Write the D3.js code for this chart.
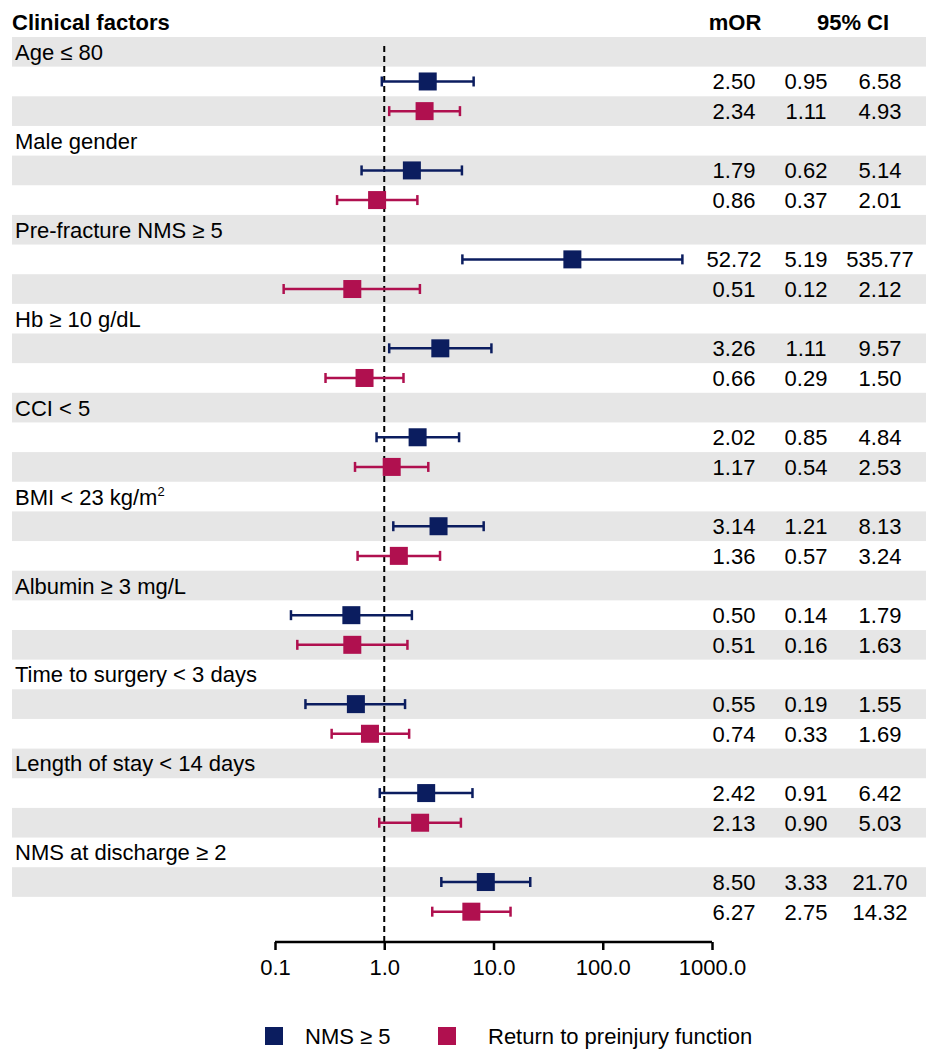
<!DOCTYPE html>
<html>
<head>
<meta charset="utf-8">
<script src="https://cdn.jsdelivr.net/npm/d3@7"></script>
<style>
  body { margin: 0; background: #fff; }
  svg text { font-family: "Liberation Sans", Arial, sans-serif; fill: #000; }
</style>
</head>
<body>
<svg width="926" height="1050"></svg>
<script>
const svg = d3.select('svg');

// factor labels (BMI has a superscript, handled below)
const factors = [
  'Age ≤ 80', 'Male gender', 'Pre-fracture NMS ≥ 5', 'Hb ≥ 10 g/dL', 'CCI < 5',
  'BMI < 23 kg/m2', 'Albumin ≥ 3 mg/L', 'Time to surgery < 3 days',
  'Length of stay < 14 days', 'NMS at discharge ≥ 2'
];
const seriesNames = ['NMS ≥ 5', 'Return to preinjury function'];
const colors = ['#0b1d5f', '#b0104f'];

// [mOR, lower, upper] per factor
const nmsValues = [
  [2.50, 0.95, 6.58], [1.79, 0.62, 5.14], [52.72, 5.19, 535.77], [3.26, 1.11, 9.57],
  [2.02, 0.85, 4.84], [3.14, 1.21, 8.13], [0.50, 0.14, 1.79], [0.55, 0.19, 1.55],
  [2.42, 0.91, 6.42], [8.50, 3.33, 21.70]
];
const returnValues = [
  [2.34, 1.11, 4.93], [0.86, 0.37, 2.01], [0.51, 0.12, 2.12], [0.66, 0.29, 1.50],
  [1.17, 0.54, 2.53], [1.36, 0.57, 3.24], [0.51, 0.16, 1.63], [0.74, 0.33, 1.69],
  [2.13, 0.90, 5.03], [6.27, 2.75, 14.32]
];
const tickValues = [0.1, 1, 10, 100, 1000];

const fs = 22;

//row layout: each factor has a label row and one row per series
const rowH = 29.65;
const rowTop = 37;
const nRows = factors.length * 3;

const x = d3.scaleLog().domain([0.1, 1000]).range([275, 712]);
const y = d3.scaleLinear().domain([0, nRows]).range([rowTop, rowTop + nRows * rowH]);

//background bands
svg.selectAll('rect.band')
  .data(d3.range(nRows).filter(i => i % 2 === 0))
  .enter().append('rect')
    .attr('class', 'band')
    .attr('x', 12)
    .attr('y', i => y(i))
    .attr('width', 926 - 12)
    .attr('height', rowH)
    .attr('fill', '#e6e6e6');

//headers
svg.append('text').attr('x', 12).attr('y', 30)
  .attr('font-size', fs).attr('font-weight', 'bold').text('Clinical factors');
svg.append('text').attr('x', 735).attr('y', 30).attr('text-anchor', 'middle')
  .attr('font-size', fs).attr('font-weight', 'bold').text('mOR');
svg.append('text').attr('x', 853).attr('y', 30).attr('text-anchor', 'middle')
  .attr('font-size', fs).attr('font-weight', 'bold').text('95% CI');

//factor labels
factors.forEach((f, i) => {
  const t = svg.append('text')
    .attr('x', 15)
    .attr('y', y(i * 3 + 0.5) + 8)
    .attr('font-size', fs);
  if (f.endsWith('m2')) {
    t.append('tspan').text(f.slice(0, -1));
    t.append('tspan').attr('font-size', 13).attr('dy', -9).text('2');
  } else {
    t.text(f);
  }
});

//reference line at OR = 1
svg.append('line')
  .attr('x1', x(1)).attr('x2', x(1))
  .attr('y1', 46).attr('y2', 943)
  .attr('stroke', '#000')
  .attr('stroke-width', 2)
  .attr('stroke-dasharray', '6,4');

//points and intervals
const rows = [];
factors.forEach((f, i) => {
  rows.push({ row: i * 3 + 1, v: nmsValues[i], s: 0 });
  rows.push({ row: i * 3 + 2, v: returnValues[i], s: 1 });
});

const g = svg.selectAll('g.est').data(rows).enter().append('g').attr('class', 'est');
const cy = d => y(d.row + 0.5);

g.append('line')
  .attr('x1', d => x(d.v[1])).attr('x2', d => x(d.v[2]))
  .attr('y1', cy).attr('y2', cy)
  .attr('stroke', d => colors[d.s]).attr('stroke-width', 2.5);
g.selectAll('line.cap')
  .data(d => [[d, d.v[1]], [d, d.v[2]]])
  .enter().append('line')
    .attr('class', 'cap')
    .attr('x1', p => x(p[1])).attr('x2', p => x(p[1]))
    .attr('y1', p => cy(p[0]) - 5).attr('y2', p => cy(p[0]) + 5)
    .attr('stroke', p => colors[p[0].s]).attr('stroke-width', 2.5);
g.append('rect')
  .attr('x', d => x(d.v[0]) - 9)
  .attr('y', d => cy(d) - 9)
  .attr('width', 18).attr('height', 18)
  .attr('fill', d => colors[d.s]);

//value columns
const colX = [734, 806, 880];
colX.forEach((cx, k) => {
  g.append('text')
    .attr('x', cx)
    .attr('y', d => cy(d) + 8)
    .attr('text-anchor', 'middle')
    .attr('font-size', fs)
    .text(d => d.v[k].toFixed(2));
});

//x axis
const xAxis = d3.axisBottom(x)
  .tickValues(tickValues)
  .tickSize(8)
  .tickPadding(9)
  .tickFormat(d => d3.format('.1f')(d));

const axisG = svg.append('g')
  .attr('transform', 'translate(0,942)')
  .call(xAxis);
axisG.select('.domain')
  .attr('d', `M${x(0.1)},0H${x(1000)}`)
  .attr('stroke-width', 2.5);
axisG.selectAll('.tick line').attr('stroke-width', 2.5);
axisG.selectAll('.tick text')
  .attr('font-size', fs)
  .attr('font-family', '"Liberation Sans", Arial, sans-serif');

//legend
const legendX = [265, 438];
seriesNames.forEach((n, i) => {
  svg.append('rect')
    .attr('x', legendX[i]).attr('y', 1027)
    .attr('width', 18).attr('height', 18)
    .attr('fill', colors[i]);
  svg.append('text')
    .attr('x', legendX[i] + (i === 0 ? 40 : 50)).attr('y', 1044)
    .attr('font-size', fs)
    .text(n);
});
</script>
</body>
</html>
